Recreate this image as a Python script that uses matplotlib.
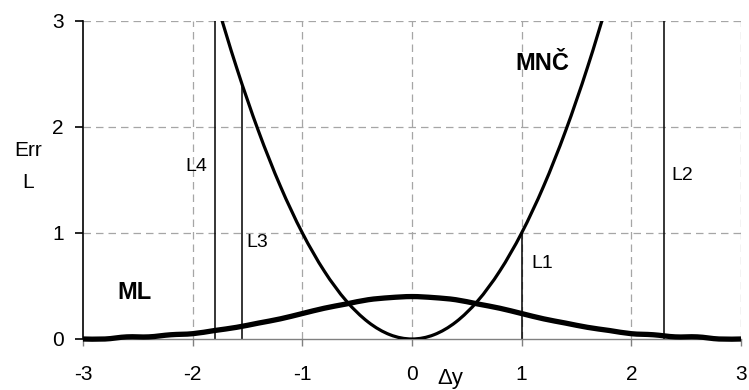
import matplotlib
matplotlib.use("Agg")
import matplotlib.pyplot as plt
from matplotlib.path import Path
from matplotlib.patches import PathPatch

plt.rcParams['font.family'] = ['Liberation Sans', 'DejaVu Sans']

# Error values sampled every 0.2 along the deviation axis
dy = [-3.0, -2.8, -2.6, -2.4, -2.2, -2.0, -1.8, -1.6, -1.4, -1.2, -1.0,
      -0.8, -0.6, -0.4, -0.2, 0.0, 0.2, 0.4, 0.6, 0.8, 1.0,
      1.2, 1.4, 1.6, 1.8, 2.0, 2.2, 2.4, 2.6, 2.8, 3.0]
err_mnc = [9.00, 7.84, 6.76, 5.76, 4.84, 4.00, 3.24, 2.56, 1.96, 1.44, 1.00,
           0.64, 0.36, 0.16, 0.04, 0.00, 0.04, 0.16, 0.36, 0.64, 1.00,
           1.44, 1.96, 2.56, 3.24, 4.00, 4.84, 5.76, 6.76, 7.84, 9.00]
err_ml = [0.00, 0.00, 0.02, 0.02, 0.04, 0.05, 0.08, 0.11, 0.15, 0.19, 0.24,
          0.29, 0.33, 0.37, 0.39, 0.40, 0.39, 0.37, 0.33, 0.29, 0.24,
          0.19, 0.15, 0.11, 0.08, 0.05, 0.04, 0.02, 0.02, 0.00, 0.00]

# Marker lines L1..L4: position and height
marker_names = ['L1', 'L2', 'L3', 'L4']
marker_x = [1.0, 2.3, -1.55, -1.8]
marker_top = [1.0, 3.0, 2.4, 3.0]
marker_label_pos = [(1.19, 0.67), (2.46, 1.50), (-1.41, 0.87), (-1.97, 1.58)]

x_ticks = [-3, -2, -1, 0, 1, 2, 3]
y_ticks = [0, 1, 2, 3]


def smooth_path(xs, ys, tension=6.0):
    """Cubic Bezier path through the points (spreadsheet-style smoothed line)."""
    pts = list(zip(xs, ys))
    verts = [pts[0]]
    codes = [Path.MOVETO]
    n = len(pts)
    for i in range(n - 1):
        p0 = pts[i - 1] if i > 0 else pts[i]
        p1 = pts[i]
        p2 = pts[i + 1]
        p3 = pts[i + 2] if i + 2 < n else pts[i + 1]
        c1 = (p1[0] + (p2[0] - p0[0]) / tension, p1[1] + (p2[1] - p0[1]) / tension)
        c2 = (p2[0] - (p3[0] - p1[0]) / tension, p2[1] - (p3[1] - p1[1]) / tension)
        verts += [c1, c2, p2]
        codes += [Path.CURVE4] * 3
    return Path(verts, codes)


fig = plt.figure(figsize=(7.49, 3.90), dpi=100)
ax = fig.add_axes([83 / 749, 51 / 390, 658 / 749, 318.3 / 390])
ax.set_xlim(-3, 3)
ax.set_ylim(0, 3)

grid_kw = dict(color='#a6a6a6', linewidth=0.9, linestyle=(0, (6, 4)), zorder=0)
for xt in x_ticks[1:]:
    ax.axvline(xt, **grid_kw)
for yt in y_ticks[1:]:
    ax.axhline(yt, **grid_kw)

for xm, top in zip(marker_x, marker_top):
    ax.plot([xm, xm], [0, top], color='black', linewidth=1.1, zorder=2)

ax.add_patch(PathPatch(smooth_path(dy, err_mnc), facecolor='none',
                       edgecolor='black', linewidth=2.3, zorder=3))
ax.add_patch(PathPatch(smooth_path(dy, err_ml), facecolor='none',
                       edgecolor='black', linewidth=3.8, zorder=4,
                       clip_on=False, joinstyle='round'))

for name, (tx, ty) in zip(marker_names, marker_label_pos):
    ax.text(tx, ty, name, fontsize=14, ha='center', va='baseline')

ax.text(1.19, 2.54, 'MNČ', fontsize=17, fontweight='bold', ha='center', va='baseline')
ax.text(-2.53, 0.377, 'ML', fontsize=17, fontweight='bold', ha='center', va='baseline')

for side in ('top', 'right'):
    ax.spines[side].set_visible(False)
ax.spines['left'].set_color('black')
ax.spines['left'].set_linewidth(1.2)
ax.spines['bottom'].set_color('#808080')
ax.spines['bottom'].set_linewidth(1.0)

ax.set_xticks(x_ticks)
ax.set_yticks(y_ticks)
ax.set_xticklabels([str(v) for v in x_ticks])
ax.set_yticklabels([str(v) for v in y_ticks])
ax.tick_params(axis='x', direction='out', length=5, width=1.0, color='#808080',
               pad=14, labelsize=15)
ax.tick_params(axis='y', direction='out', length=6, width=1.2, color='black',
               pad=8, labelsize=15)

fig.text(27.7 / 749, 1 - 156 / 390, 'Err', fontsize=15, ha='center', va='baseline')
fig.text(28 / 749, 1 - 188.3 / 390, 'L', fontsize=15, ha='center', va='baseline')
fig.text(450 / 749, (390 - 384) / 390, 'Δy', fontsize=16, ha='center', va='baseline')

fig.savefig('out.png', dpi=100)
